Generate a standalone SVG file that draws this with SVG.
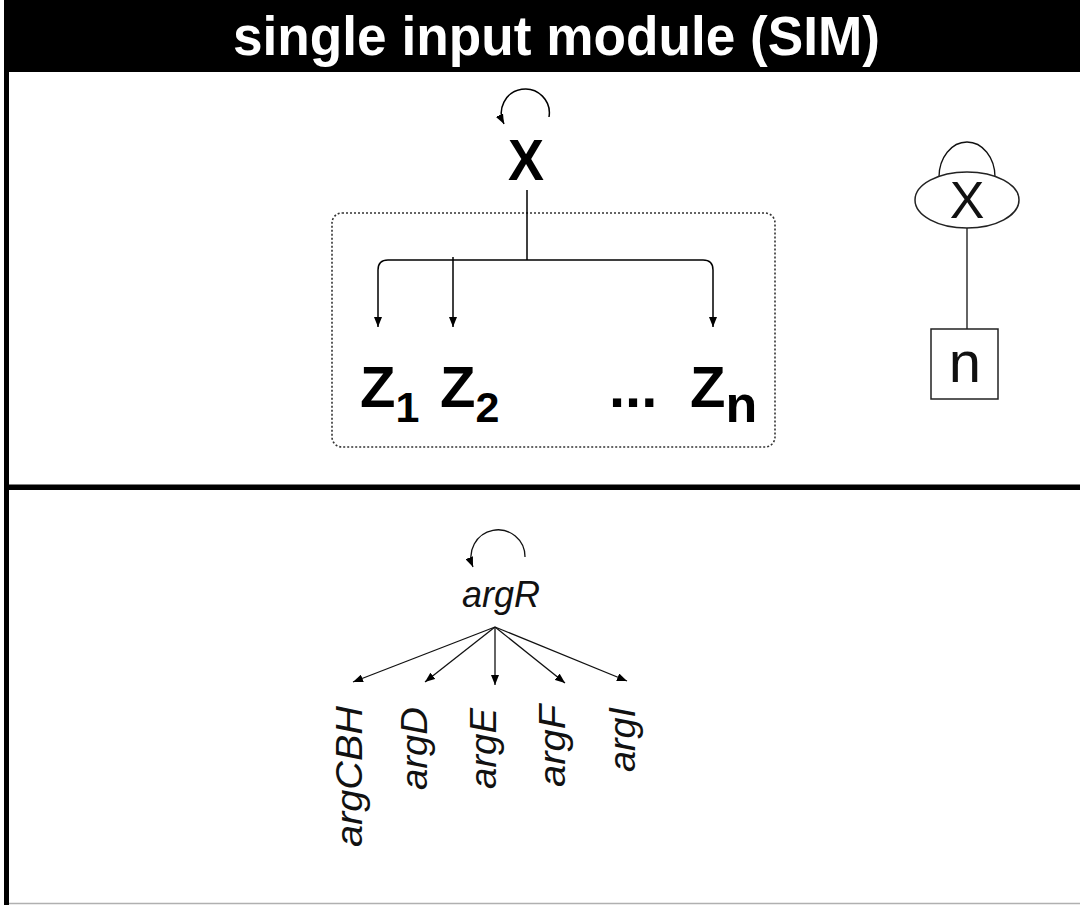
<svg xmlns="http://www.w3.org/2000/svg" width="1080" height="905" viewBox="0 0 1080 905">
<defs>
<style>
.hdr{font-family:"Liberation Sans",Arial,Helvetica,sans-serif;font-weight:bold;fill:#fff}
.bold{font-family:"Liberation Sans",Arial,Helvetica,sans-serif;font-weight:bold;fill:#000}
.reg{font-family:"Liberation Sans",Arial,Helvetica,sans-serif;fill:#111}
.gene{font-family:"Liberation Sans",Arial,Helvetica,sans-serif;font-style:italic;fill:#111;font-size:36px}
.edge{fill:none;stroke:#000;stroke-width:1.5}
.thin{fill:none;stroke:#111;stroke-width:1.3}
</style>
<marker id="ah" viewBox="0 0 10 8" refX="10" refY="4" markerWidth="10" markerHeight="8" markerUnits="userSpaceOnUse" orient="auto">
<path d="M0,0 L10,4 L0,8 z" fill="#000"/>
</marker>
</defs>
<rect x="0" y="0" width="1080" height="905" fill="#fff"/>
<g id="frame">
<rect x="4" y="0" width="1076" height="72" fill="#000"/>
<rect x="4" y="0" width="5" height="905" fill="#000"/>
<rect x="4" y="484.5" width="1076" height="5.5" fill="#000"/>
<line x1="9" y1="903.5" x2="1080" y2="903.5" stroke="#b0b0b0" stroke-width="1.5"/>
<text class="hdr" x="556.5" y="55" font-size="55" text-anchor="middle" textLength="647" lengthAdjust="spacingAndGlyphs">single input module (SIM)</text>
</g>
<g id="module-box">
<rect x="332" y="213" width="443" height="234" rx="10" fill="none" stroke="#333" stroke-width="1.6" stroke-dasharray="2,2"/>
</g>
<g id="connectors">
<path class="edge" d="M549,117 A24,24 0 1 0 504,124" marker-end="url(#ah)"/>
<path class="edge" d="M527,190 V260"/>
<path class="edge" d="M527,260 H388 Q378,260 378,270 V327" marker-end="url(#ah)"/>
<path class="edge" d="M527,260 H703 Q713,260 713,270 V327" marker-end="url(#ah)"/>
<path class="edge" d="M453,257 V327" marker-end="url(#ah)"/>
<path class="thin" d="M939,177 A28,35 0 0 1 995,177"/>
<path class="thin" d="M967,228 V329"/>
<path class="thin" d="M525,557 A27,27 0 1 0 473,567" marker-end="url(#ah)"/>
<path class="thin" d="M495,627 L353,682" marker-end="url(#ah)"/>
<path class="thin" d="M495,627 L425,682" marker-end="url(#ah)"/>
<path class="thin" d="M495,627 L495,685" marker-end="url(#ah)"/>
<path class="thin" d="M495,627 L565,683" marker-end="url(#ah)"/>
<path class="thin" d="M495,627 L627,681" marker-end="url(#ah)"/>
</g>
<g id="node-X"><text class="bold" x="526" y="180" font-size="58" text-anchor="middle" textLength="36" lengthAdjust="spacingAndGlyphs">X</text></g>
<g id="node-Z1"><text class="bold" x="360" y="407" font-size="58">Z<tspan font-size="43" dy="15">1</tspan></text></g>
<g id="node-Z2"><text class="bold" x="440" y="407" font-size="58">Z<tspan font-size="43" dy="15">2</tspan></text></g>
<g id="node-dots"><text class="bold" x="609" y="407" font-size="58">...</text></g>
<g id="node-Zn"><text class="bold" x="690" y="407" font-size="58">Z<tspan font-size="52" dy="15">n</tspan></text></g>
<g id="node-X-symbol">
<ellipse cx="967" cy="200" rx="52" ry="28" fill="#fff" stroke="#222" stroke-width="1.5"/>
<text class="reg" x="967" y="218" font-size="52" text-anchor="middle">X</text>
</g>
<g id="node-n-symbol">
<rect x="931" y="329" width="67" height="70" fill="#fff" stroke="#222" stroke-width="1.5"/>
<text class="reg" x="965" y="382" font-size="58" text-anchor="middle">n</text>
</g>
<g id="node-argR"><text class="gene" x="501" y="607" text-anchor="middle" textLength="78">argR</text></g>
<g id="node-argCBH"><text class="gene" transform="translate(362,706) rotate(-90)" text-anchor="end" textLength="141" lengthAdjust="spacingAndGlyphs">argCBH</text></g>
<g id="node-argD"><text class="gene" transform="translate(427,707) rotate(-90)" text-anchor="end" textLength="83" lengthAdjust="spacingAndGlyphs">argD</text></g>
<g id="node-argE"><text class="gene" transform="translate(496,708) rotate(-90)" text-anchor="end" textLength="81" lengthAdjust="spacingAndGlyphs">argE</text></g>
<g id="node-argF"><text class="gene" transform="translate(565,705) rotate(-90)" text-anchor="end" textLength="82" lengthAdjust="spacingAndGlyphs">argF</text></g>
<g id="node-argI"><text class="gene" transform="translate(635,707) rotate(-90)" text-anchor="end" textLength="65" lengthAdjust="spacingAndGlyphs">argI</text></g>
</svg>
